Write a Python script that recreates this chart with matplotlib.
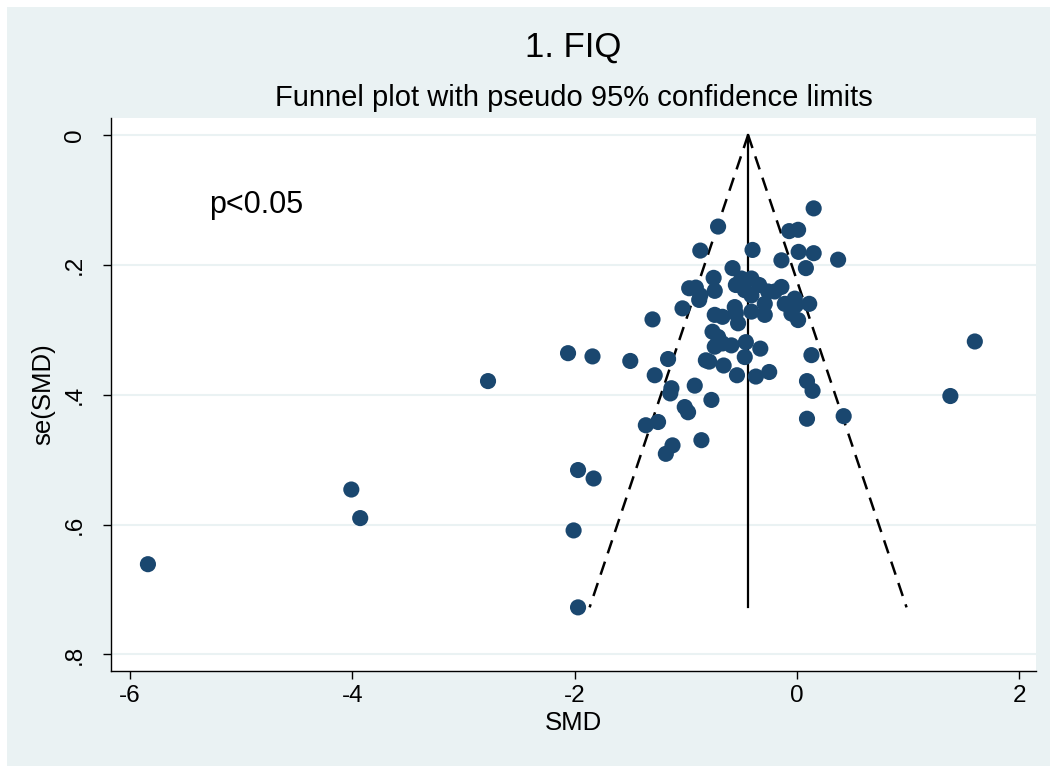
import matplotlib
matplotlib.use("Agg")
import matplotlib.pyplot as plt
from matplotlib.patches import Rectangle
import numpy as np

# ---- data (SMD, se(SMD)) ----
smd = [
    -5.84, -4.01, -3.93, -2.78, -2.06, -1.84, -1.97, -1.83, -2.01, -1.97,
    -1.50, -1.30, 1.60, 1.38, 0.42,
    0.15, -0.71, -0.07, 0.01, -0.87, -0.40, 0.015, 0.15, 0.37,
    -0.14, 0.08, -0.58, -0.41, -0.75, -0.50, -0.55, -0.47, -0.34,
    -0.97, -0.91, -0.26, -0.20, -0.14, -0.74, -0.87, -0.41, -0.02,
    -0.88, -0.29, -0.11, 0.11, -0.01, -1.03, -0.56, -0.55, -0.53,
    -0.41, -0.74, -0.67, -0.29, -0.05, 0.01, -0.76, -0.71, -0.74,
    -0.67, -0.59, -0.46, -0.33, -0.82, -0.79, -0.66, -0.47, -1.16,
    -0.54, -0.25, -0.37, 0.13, 0.09, 0.14, 0.09,
    -1.28, -1.13, -1.14, -0.92, -0.77, -1.01, -0.98, -1.36, -1.25,
    -1.12, -1.18, -0.86,
]
se = [
    0.661, 0.546, 0.590, 0.379, 0.336, 0.341, 0.516, 0.529, 0.609, 0.7275,
    0.348, 0.284, 0.318, 0.402, 0.433,
    0.113, 0.141, 0.148, 0.146, 0.178, 0.177, 0.180, 0.182, 0.192,
    0.193, 0.205, 0.205, 0.221, 0.220, 0.221, 0.231, 0.239, 0.231,
    0.236, 0.235, 0.241, 0.241, 0.234, 0.240, 0.247, 0.247, 0.252,
    0.254, 0.260, 0.260, 0.260, 0.262, 0.267, 0.265, 0.275, 0.290,
    0.272, 0.277, 0.280, 0.277, 0.275, 0.285, 0.303, 0.311, 0.326,
    0.321, 0.324, 0.319, 0.329, 0.347, 0.349, 0.355, 0.342, 0.345,
    0.370, 0.365, 0.372, 0.339, 0.379, 0.394, 0.437,
    0.370, 0.390, 0.398, 0.386, 0.408, 0.419, 0.427, 0.447, 0.442,
    0.478, 0.491, 0.470,
]
pooled_smd = -0.44
se_max = 0.7275

x_ticks = [-6, -4, -2, 0, 2]
y_ticks = [0, 0.2, 0.4, 0.6, 0.8]
y_ticklabels = ["0", ".2", ".4", ".6", ".8"]

title = "1. FIQ"
subtitle = "Funnel plot with pseudo 95% confidence limits"
annotation = "p<0.05"

# ---- style ----
plt.rcParams['font.family'] = ['Liberation Sans', 'DejaVu Sans']
plt.rcParams['axes.unicode_minus'] = False
bg = '#eaf2f3'
navy = '#1a476f'

fig = plt.figure(figsize=(10.53, 7.71), dpi=100)
fig.patch.set_facecolor('white')
W, H = 1053, 771
fig.patches.append(Rectangle((7 / W, 1 - 766 / H), (1050 - 7) / W, (766 - 7) / H,
                             transform=fig.transFigure, facecolor=bg,
                             edgecolor='none', zorder=-10))

ax = fig.add_axes([110.7 / W, 1 - 671 / H, (1036.5 - 110.7) / W, (671 - 118) / H])
ax.set_zorder(5)
ax.set_facecolor('white')
ax.set_xlim(-6.175, 2.155)
ax.set_ylim(0.8255, -0.0262)

for yt in y_ticks:
    ax.axhline(yt, color=bg, lw=1.5, zorder=0)

# funnel
zline = np.array([0, se_max])
ax.plot([pooled_smd, pooled_smd], zline, color='black', lw=1.6, zorder=2)
ax.plot(pooled_smd - 1.96 * zline, zline, color='black', lw=1.8,
        linestyle=(0, (5.5, 3.5)), zorder=2)
ax.plot(pooled_smd + 1.96 * zline, zline, color='black', lw=1.8,
        linestyle=(0, (5.5, 3.5)), zorder=2)

ax.scatter(smd, se, s=135, color=navy, edgecolors='none', zorder=3)

ax.text(-5.29, 0.108, annotation, fontsize=22, ha='left', va='center')

for s in ['top', 'right']:
    ax.spines[s].set_visible(False)
for s in ['left', 'bottom']:
    ax.spines[s].set_linewidth(1.0)
    ax.spines[s].set_color('black')

ax.set_xticks(x_ticks)
ax.set_xticklabels([str(v) for v in x_ticks])
ax.set_yticks(y_ticks)
ax.set_yticklabels(y_ticklabels, rotation=90, va='center')
ax.tick_params(axis='both', labelsize=17.5, length=6, width=1, direction='out')
ax.tick_params(axis='x', pad=4)
ax.tick_params(axis='y', pad=12)

ax.set_xlabel("SMD", fontsize=18.5, labelpad=3)
ax.set_ylabel("se(SMD)", fontsize=18.5, labelpad=6)

fig.text(573.5 / W, 1 - 47 / H, title, fontsize=25, ha='center', va='center')
fig.text(573.5 / W, 1 - 98 / H, subtitle, fontsize=21, ha='center', va='center')

fig.savefig("out.png", dpi=100, facecolor=fig.get_facecolor())
